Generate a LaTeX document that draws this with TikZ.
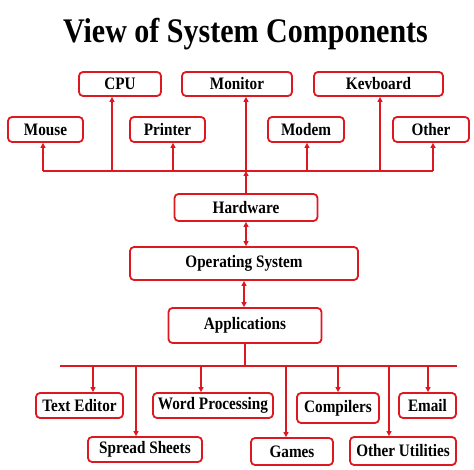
\documentclass[tikz,border=0pt]{standalone}
\usepackage{fontspec}
\setmainfont{Liberation Serif}[FakeStretch=0.87]
\usetikzlibrary{arrows.meta, positioning}
\definecolor{boxred}{RGB}{222,24,32}
\tikzset{
  part/.style={draw=boxred, line width=1.8pt, fill=white, rounded corners=4pt,
    inner sep=0pt, font=\fontsize{17.5}{20}\selectfont\bfseries},
  link/.style={draw=boxred, line width=1.8pt, -{Triangle[length=5pt, width=5pt]}},
  twoway/.style={draw=boxred, line width=1.8pt, {Triangle[length=5pt, width=5pt]}-{Triangle[length=5pt, width=5pt]}},
  bus/.style={draw=boxred, line width=1.8pt}
}
\begin{document}
\begin{tikzpicture}[x=1pt, y=-1pt]
      \useasboundingbox (0,0) rectangle (474,470);

      % Draw the title
      \node[anchor=base, font=\fontsize{34.5}{40}\selectfont\bfseries] (title) at (245.5,43) {View of System Components};

      % Draw the hardware boxes
      \node[part, minimum width=82pt, minimum height=24pt] (cpu) at (120,84) {CPU};
      \node[part, minimum width=110pt, minimum height=24pt] (monitor) at (237,84) {Monitor};
      \node[part, minimum width=129pt, minimum height=24pt] (keyboard) at (378.5,84) {Kevboard};
      \node[part, minimum width=75pt, minimum height=25pt] (mouse) at (45.5,129.5) {Mouse};
      \node[part, minimum width=75pt, minimum height=25pt] (printer) at (167.5,129.5) {Printer};
      \node[part, minimum width=76pt, minimum height=25pt] (modem) at (306,129.5) {Modem};
      \node[part, minimum width=76pt, minimum height=25pt] (other) at (431,129.5) {Other};

      % Draw the layers
      \node[part, minimum width=143pt, minimum height=27pt] (hardware) at (246,207.5) {Hardware};
      \node[part, minimum width=228pt, minimum height=33pt] (os) at (244,263.5) {Operating System};
      \node[part, minimum width=153pt, minimum height=35pt] (apps) at (245,325.5) {Applications};

      % Draw the application boxes
      \node[part, minimum width=87pt, minimum height=25pt] (texted) at (79.5,405.5) {Text Editor};
      \node[part, minimum width=120pt, minimum height=25pt] (word) at (213,405.5) {Word Processing};
      \node[part, minimum width=82pt, minimum height=30pt] (compilers) at (338,408) {Compilers};
      \node[part, minimum width=57pt, minimum height=25pt] (email) at (427.5,405.5) {Email};
      \node[part, minimum width=114pt, minimum height=25pt] (spread) at (145,449.5) {Spread Sheets};
      \node[part, minimum width=82pt, minimum height=27pt] (games) at (292,451.5) {Games};
      \node[part, minimum width=106pt, minimum height=28pt] (utils) at (403,451) {Other Utilities};

      % Draw the upper bus and its taps
      \coordinate (hwbusL) at (43,171);
      \coordinate (hwbusR) at (433,171);
      \draw[bus] (hwbusL) -- (hwbusR);
      \foreach \x/\n in {43/mouse, 112/cpu, 173/printer, 246/monitor, 307/modem, 380/keyboard, 433/other}{
        \coordinate (tap-\n) at (\x,171);
        \draw[link] (tap-\n) -- (tap-\n |- \n.south);
      }
      \draw[link] (hardware.north) -- (tap-monitor);

      % Draw the links between the layers
      \draw[twoway] (hardware.south) -- (hardware.south |- os.north);
      \draw[twoway] (os.south) -- (os.south |- apps.north);

      % Draw the lower bus and its taps
      \coordinate (appbusL) at (60,366);
      \coordinate (appbusR) at (457,366);
      \draw[bus] (appbusL) -- (appbusR);
      \draw[bus] (apps.south) -- (apps.south |- appbusL);
      \foreach \x/\n in {93/texted, 136/spread, 201/word, 286/games, 338/compilers, 389/utils, 428/email}{
        \coordinate (tap-\n) at (\x,366);
        \draw[link] (tap-\n) -- (tap-\n |- \n.north);
      }
\end{tikzpicture}
\end{document}
